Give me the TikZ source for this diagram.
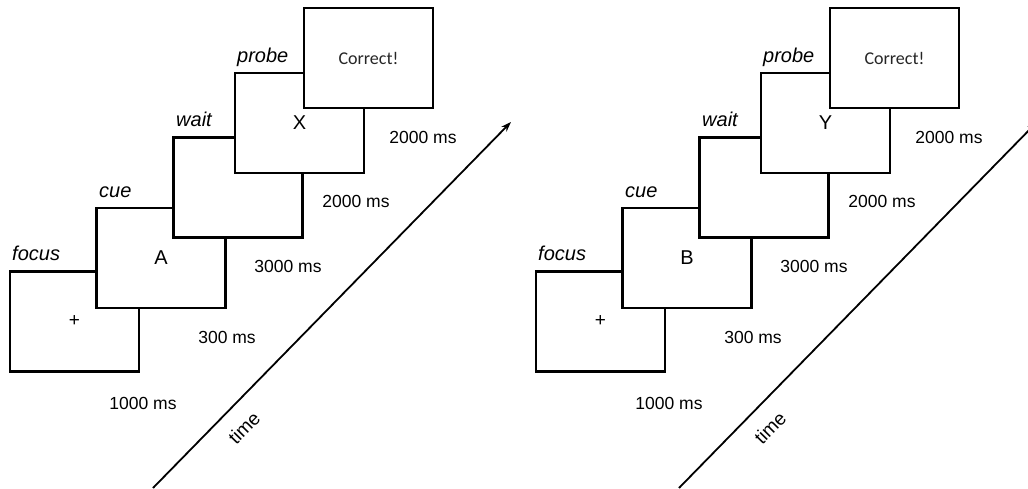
\documentclass[tikz,border=0pt]{standalone}
\usepackage{fontspec}
\setmainfont{Liberation Sans}
\newfontfamily\calfont{Carlito}
\usetikzlibrary{arrows.meta}

\tikzset{
  screen/.style={draw=black, fill=white, line width=2.7pt,
    minimum width=129pt, minimum height=100pt, inner sep=0pt,
    font=\fontsize{20}{20}\selectfont},
  phase/.style={anchor=base west, inner sep=0pt,
    font=\fontsize{20}{20}\selectfont\itshape},
  dur/.style={inner sep=0pt, font=\fontsize{17.5}{17.5}\selectfont},
  timeline/.style={line width=1.8pt, draw=black},
  timelabel/.style={inner sep=0pt, rotate=45.5,
    font=\fontsize{19}{19}\selectfont},
}

% One trial sequence: #1 = name prefix, #2 = cue letter, #3 = probe letter
\newcommand\trialpanel[3]{%
  % time axis
  \coordinate (#1t0) at (153,488);
  \coordinate (#1t1) at (511,122);
  \draw[timeline, -{Stealth[length=10pt,width=7pt]}] (#1t0) -- (#1t1);
  \node[timelabel] (#1tl) at (244,428) {time};
  % stacked screens, later ones on top
  \node[screen] (#1f) at (74.5,321.5) {\fontsize{19}{19}\selectfont +};
  \node[screen] (#1c) at (161,258) {#2};
  \node[screen] (#1w) at (238,187.5) {};
  \node[screen] (#1p) at (299.5,123) {#3};
  \node[screen] (#1r) at (368.5,58) {\calfont\fontsize{18}{18}\selectfont\color{black!85}Correct!};
  % phase names
  \node[phase] (#1lf) at (12,261) {focus};
  \node[phase] (#1lc) at (99,198) {cue};
  \node[phase] (#1lw) at (176,127) {wait};
  \node[phase] (#1lp) at (237,63) {probe};
  % durations
  \node[dur] (#1d1) at (143,403) {1000 ms};
  \node[dur] (#1d2) at (227,337) {300 ms};
  \node[dur] (#1d3) at (288,266) {3000 ms};
  \node[dur] (#1d4) at (356,201) {2000 ms};
  \node[dur] (#1d5) at (423,137) {2000 ms};
}

\begin{document}
\begin{tikzpicture}[x=1pt, y=-1pt]
  \useasboundingbox (0,0) rectangle (1028,489);
  \clip (0,0) rectangle (1028,489);
  \fill[white] (0,0) rectangle (1028,489);
  \trialpanel{a}{A}{X}
  \begin{scope}[xshift=526pt]
    \trialpanel{b}{B}{Y}
  \end{scope}
\end{tikzpicture}
\end{document}
